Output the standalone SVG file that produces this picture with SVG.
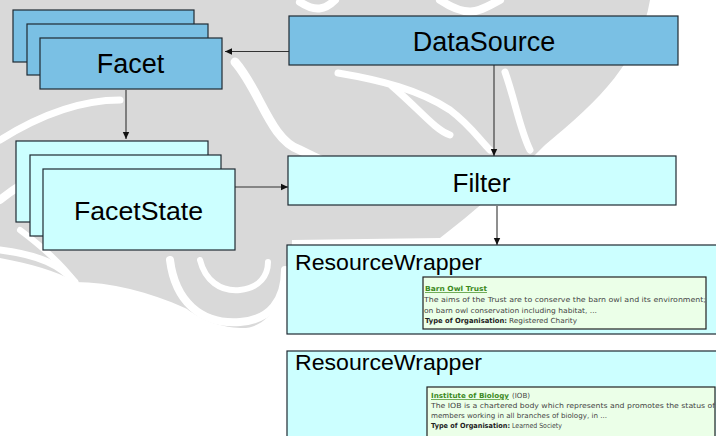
<svg xmlns="http://www.w3.org/2000/svg" width="716" height="436" viewBox="0 0 716 436">
<defs>
<marker id="ah" markerWidth="8" markerHeight="8" refX="7" refY="4" orient="auto" markerUnits="userSpaceOnUse">
<path d="M0,0.8 L7,4 L0,7.2 Z" fill="#111"/>
</marker>
<style>
.blue{fill:#7ac0e4;stroke:#1f2a33;stroke-width:1.2}
.cyan{fill:#ccffff;stroke:#1f2a33;stroke-width:1.2}
.card{fill:#ebffe8;stroke:#222;stroke-width:1.2}
.big{font-family:"Liberation Sans",Arial,sans-serif;fill:#000;text-anchor:middle}
.rw{font-family:"Liberation Sans",Arial,sans-serif;fill:#000;font-size:22px}
.sm{font-family:"DejaVu Sans",Verdana,sans-serif;font-size:7px;fill:#444}
.lnk{fill:#3d8a1e;font-weight:bold;text-decoration:underline}
.b{font-weight:bold;fill:#222}
.conn{stroke:#333;stroke-width:1.1;fill:none}
.wm{fill:#d9d9d9}
.ws{fill:none;stroke:#fff;stroke-linecap:round}
</style>
</defs>
<rect width="716" height="436" fill="#fff"/>
<g id="watermark">
<path class="wm" d="M0,0 L650,0 C640,60 600,100 545,145 C505,185 470,215 440,238 L292,240 C292,290 272,330 240,328 C205,326 190,310 185,308 C150,292 110,282 75,282 C55,270 30,264 0,258 Z"/>
<path class="ws" stroke-width="9" d="M235,62 C260,90 270,140 300,150 C320,160 330,165 345,170"/>
<path class="ws" stroke-width="7" d="M338,73 C380,80 420,90 450,110 C470,125 480,140 490,150"/>
<path class="ws" stroke-width="7" d="M392,86 C420,110 435,130 450,135"/>
<path class="ws" stroke-width="7" d="M505,72 C515,100 520,130 530,150"/>
<path class="ws" stroke-width="8" d="M0,200 C30,175 70,160 110,150 C150,140 180,150 200,160"/>
<path class="ws" stroke-width="7" d="M0,140 C40,115 80,100 120,100"/>
<path class="ws" stroke-width="8" d="M170,260 C175,300 200,325 240,322 C270,320 285,300 285,270"/>
<path class="ws" stroke-width="6" d="M200,260 C205,280 220,292 240,290 C260,288 268,275 268,262"/>
<path class="ws" stroke-width="7" d="M75,282 C60,265 40,255 0,250"/>
<path class="ws" stroke-width="6" d="M20,230 C40,245 60,262 75,282"/>
<path class="ws" stroke-width="8" d="M440,0 C470,20 480,10 500,0"/>
<path class="ws" stroke-width="8" d="M300,2 C315,12 325,10 335,0"/>
</g>
<g id="connectors">
<line class="conn" x1="289" y1="51.5" x2="225" y2="51.5" marker-end="url(#ah)"/>
<line class="conn" x1="494" y1="65" x2="494" y2="156" marker-end="url(#ah)"/>
<line class="conn" x1="126" y1="90" x2="126" y2="139" marker-end="url(#ah)"/>
<line class="conn" x1="235" y1="187" x2="288" y2="187" marker-end="url(#ah)"/>
<line class="conn" x1="497" y1="206" x2="497" y2="245" marker-end="url(#ah)"/>
</g>
<g id="facet">
<rect class="blue" x="13" y="10" width="181" height="52"/>
<rect class="blue" x="27" y="24" width="181" height="51"/>
<rect class="blue" x="40" y="38" width="182" height="51"/>
<text class="big" x="130.5" y="72.5" font-size="27">Facet</text>
</g>
<g id="datasource">
<rect class="blue" x="289" y="16" width="389" height="49"/>
<text class="big" x="484" y="50.5" font-size="27">DataSource</text>
</g>
<g id="facetstate">
<rect class="cyan" x="16" y="141" width="192" height="81"/>
<rect class="cyan" x="30" y="155" width="191" height="81"/>
<rect class="cyan" x="43" y="169" width="192" height="81"/>
<text class="big" x="138.5" y="220" font-size="26.7">FacetState</text>
</g>
<g id="filter">
<rect class="cyan" x="288" y="156" width="388" height="49"/>
<text class="big" x="481.5" y="191.5" font-size="26">Filter</text>
</g>
<g id="resourcewrapper1">
<rect class="cyan" x="287" y="245" width="435" height="89"/>
<text class="rw" x="295" y="270" textLength="187" lengthAdjust="spacingAndGlyphs">ResourceWrapper</text>
<rect class="card" x="423" y="277" width="283" height="52"/>
<text class="sm lnk" x="425" y="291" textLength="62" lengthAdjust="spacingAndGlyphs">Barn Owl Trust</text>
<text class="sm" x="424" y="302" textLength="282" lengthAdjust="spacingAndGlyphs">The aims of the Trust are to conserve the barn owl and its environment;</text>
<text class="sm" x="424" y="313" textLength="173" lengthAdjust="spacingAndGlyphs">on barn owl conservation including habitat, ...</text>
<text class="sm b" x="425" y="323" textLength="82" lengthAdjust="spacingAndGlyphs">Type of Organisation:</text>
<text class="sm" x="509" y="323" textLength="68" lengthAdjust="spacingAndGlyphs">Registered Charity</text>
</g>
<g id="resourcewrapper2">
<rect class="cyan" x="287" y="351" width="435" height="95"/>
<text class="rw" x="295" y="370" textLength="187" lengthAdjust="spacingAndGlyphs">ResourceWrapper</text>
<rect class="card" x="427" y="387" width="288" height="55"/>
<text class="sm lnk" x="431" y="398" textLength="78" lengthAdjust="spacingAndGlyphs">Institute of Biology</text>
<text class="sm" x="512" y="398" textLength="18" lengthAdjust="spacingAndGlyphs">(IOB)</text>
<text class="sm" x="431" y="408" textLength="284" lengthAdjust="spacingAndGlyphs">The IOB is a chartered body which represents and promotes the status of</text>
<text class="sm" x="431" y="418" textLength="176" lengthAdjust="spacingAndGlyphs">members working in all branches of biology, in ...</text>
<text class="sm b" x="431" y="428" textLength="79" lengthAdjust="spacingAndGlyphs">Type of Organisation:</text>
<text class="sm" x="512" y="428" textLength="50" lengthAdjust="spacingAndGlyphs">Learned Society</text>
</g>
</svg>
